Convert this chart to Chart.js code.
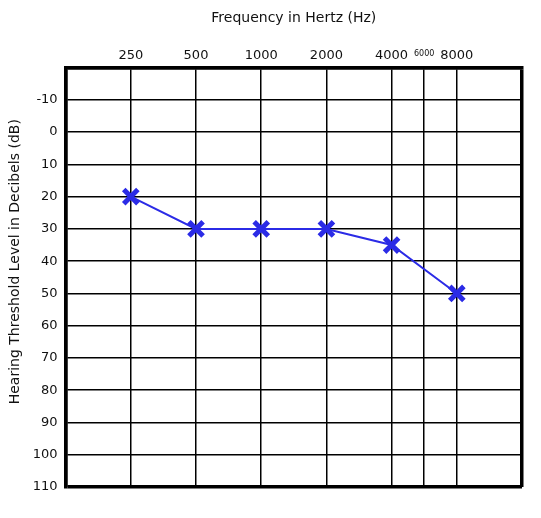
<!DOCTYPE html>
<html>
<head>
<meta charset="utf-8">
<script src="https://cdn.jsdelivr.net/npm/chart.js@4.4.1/dist/chart.umd.min.js"></script>
<style>
  html, body { margin: 0; padding: 0; background: #fff; }
  #wrap { width: 541px; height: 518px; }
</style>
</head>
<body>
<div id="wrap"><canvas id="audiogram"></canvas></div>
<script>
// audiogram values
const freqTicks = [250, 500, 1000, 2000, 4000, 6000, 8000];
const testedFreqs = [250, 500, 1000, 2000, 4000, 8000];
const thresholds = [20, 30, 30, 30, 35, 50];
const dbMin = -20;
const dbMax = 110;
const dbStep = 10;

// octave axis: 125 Hz = 0, 250 = 1, 500 = 2 ... 16000 = 7, half-octaves in between
function freqPos(f) {
  const oct = Math.floor(Math.log2(f / 125) + 1e-9);
  const lo = 125 * Math.pow(2, oct);
  return oct + (f - lo) / lo;
}

const edgeLeft = freqPos(125);
const edgeRight = freqPos(16000);

const ctx = document.getElementById('audiogram');

new Chart(ctx, {
  type: 'line',
  data: {
    datasets: [{
      label: 'Threshold',
      data: testedFreqs.map((f, i) => ({ x: freqPos(f), y: thresholds[i] })),
      borderColor: '#2b2be6',
      borderWidth: 2,
      pointStyle: 'crossRot',
      pointRadius: 10,
      pointBorderWidth: 5,
      pointBorderColor: '#2b2be6',
      pointBackgroundColor: '#2b2be6',
      tension: 0
    }]
  },
  options: {
    responsive: true,
    maintainAspectRatio: false,
    animation: false,
    layout: {
      padding: { left: 5, right: 19, top: 8, bottom: 31 }
    },
    plugins: {
      legend: { display: false },
      tooltip: { enabled: false }
    },
    scales: {
      x: {
        type: 'linear',
        position: 'top',
        min: edgeLeft,
        max: edgeRight,
        afterBuildTicks: (scale) => {
          const vals = [edgeLeft].concat(freqTicks.map(freqPos), [edgeRight]);
          scale.ticks = vals.map(v => ({ value: v }));
        },
        ticks: {
          autoSkip: false,
          maxRotation: 0,
          padding: 4,
          color: '#111',
          font: (c) => {
            const v = c.tick ? c.tick.value : 0;
            if (v === freqPos(6000)) {
              return { family: 'DejaVu Sans', size: 8, lineHeight: 2.35 };
            }
            return { family: 'DejaVu Sans', size: 13 };
          },
          callback: (value) => {
            const idx = freqTicks.findIndex(f => freqPos(f) === value);
            return idx >= 0 ? String(freqTicks[idx]) : '';
          }
        },
        grid: {
          color: '#000',
          drawTicks: false,
          lineWidth: (c) => {
            const v = c.tick ? c.tick.value : 0;
            return (v === edgeLeft || v === edgeRight) ? 3.5 : 1.5;
          }
        },
        border: { display: true, color: '#000', width: 3.5 },
        title: {
          display: true,
          text: 'Frequency in Hertz (Hz)',
          color: '#111',
          font: { family: 'DejaVu Sans', size: 14 },
          padding: { top: 2, bottom: 14 }
        }
      },
      y: {
        type: 'linear',
        reverse: true,
        min: dbMin,
        max: dbMax,
        ticks: {
          stepSize: dbStep,
          padding: 8,
          color: '#111',
          font: { family: 'DejaVu Sans', size: 13 },
          callback: (value) => value === dbMin ? '' : String(value)
        },
        grid: {
          color: '#000',
          drawTicks: false,
          lineWidth: (c) => {
            const v = c.tick ? c.tick.value : 0;
            return (v === dbMin || v === dbMax) ? 3.5 : 1.5;
          }
        },
        border: { display: true, color: '#000', width: 3.5 },
        title: {
          display: true,
          text: '       Hearing Threshold Level in Decibels (dB)',
          color: '#111',
          font: { family: 'DejaVu Sans', size: 14 },
          padding: { top: 2, bottom: 1 }
        }
      }
    }
  }
});
</script>
</body>
</html>
